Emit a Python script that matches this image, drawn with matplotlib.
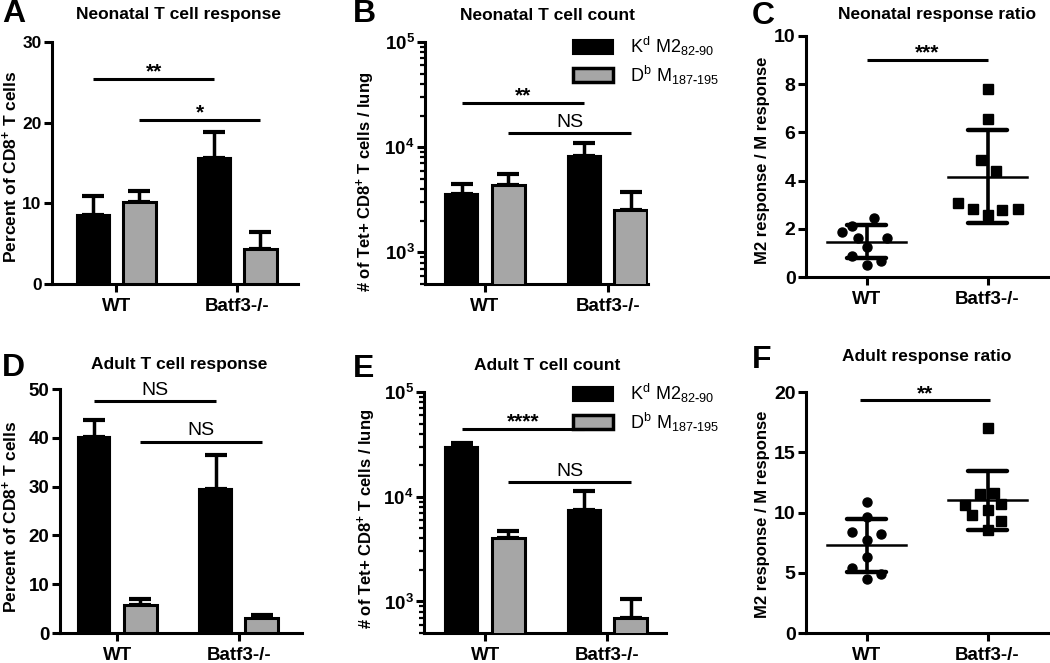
import numpy as np
import matplotlib
matplotlib.use("Agg")
import matplotlib.pyplot as plt
from matplotlib.patches import Patch
from matplotlib.ticker import LogLocator, FuncFormatter, NullFormatter

plt.rcParams["font.family"] = ["Liberation Sans", "DejaVu Sans"]
plt.rcParams["font.weight"] = "bold"
plt.rcParams["mathtext.fontset"] = "custom"
plt.rcParams["mathtext.rm"] = "Liberation Sans"
plt.rcParams["mathtext.bf"] = "Liberation Sans:bold"
plt.rcParams["mathtext.it"] = "Liberation Sans:italic"

# data
groups = ["WT", "Batf3-/-"]
series = [r"$\mathregular{K^d\ M2_{82\text{-}90}}$", r"$\mathregular{D^b\ M_{187\text{-}195}}$"]

# A: neonatal response (% of CD8+)
a_kd = [8.6, 15.6]
a_kd_sem = [2.3, 3.3]
a_db = [10.2, 4.4]
a_db_sem = [1.3, 2.1]

# B: neonatal count
b_kd = [3550, 8200]
b_kd_sem = [900, 2800]
b_db = [4400, 2500]
b_db_sem = [1100, 1250]

# C: neonatal ratio
c_wt = [1.85, 2.12, 2.46, 1.63, 1.63, 1.26, 0.88, 0.68, 0.50]
c_wt_x = [-0.20, -0.12, 0.06, -0.07, 0.17, 0.0, -0.12, 0.12, 0.0]
c_ko = [3.08, 2.81, 4.85, 7.79, 6.56, 2.57, 4.40, 2.78, 2.82]
c_ko_x = [-0.24, -0.12, -0.05, 0.0, 0.0, 0.0, 0.07, 0.12, 0.25]
c_mean = [1.47, 4.16]
c_sd = [0.70, 1.92]

# D: adult response
d_kd = [40.1, 29.5]
d_kd_sem = [3.6, 7.0]
d_db = [5.7, 3.0]
d_db_sem = [1.2, 0.7]

# E: adult count
e_kd = [29900, 7500]
e_kd_sem = [2700, 3900]
e_db = [4060, 700]
e_db_sem = [700, 360]

# F: adult ratio
f_wt = [10.85, 9.65, 8.36, 8.19, 7.72, 6.33, 5.37, 4.87, 4.46]
f_wt_x = [0.0, 0.0, -0.12, 0.12, 0.0, 0.0, -0.12, 0.12, 0.0]
f_ko = [17.0, 11.5, 11.65, 10.62, 10.7, 10.2, 9.8, 9.29, 8.57]
f_ko_x = [0.0, -0.06, 0.05, -0.19, 0.11, 0.0, -0.13, 0.11, 0.0]
f_mean = [7.3, 11.0]
f_sd = [2.2, 2.45]

GRAY = "#a6a6a6"
W, H = 1050, 663
OFF = 0.19
BW = 0.27

fig = plt.figure(figsize=(W / 100, H / 100), dpi=100)


def rect(l, r, t, b):
    return [l / W, 1 - b / H, (r - l) / W, (b - t) / H]


def ftext(x, y, s, **kw):
    fig.text(x / W, 1 - y / H, s, ha="center", va="center", **kw)


def style(ax, xlim, fs):
    for s in ["top", "right"]:
        ax.spines[s].set_visible(False)
    for s in ["left", "bottom"]:
        ax.spines[s].set_linewidth(2.2)
    ax.set_xlim(xlim)
    ax.set_xticks([0, 1])
    ax.set_xticklabels(groups, fontsize=13.5)
    ax.tick_params(axis="x", length=6, width=2.2, pad=4)
    ax.tick_params(axis="y", which="major", length=6, width=2.2, pad=1.5, labelsize=fs)


def bars(ax, kd, kd_sem, db, db_sem, base=0):
    x = np.arange(2)
    for xs, v, e, c, lw in [(x - OFF, kd, kd_sem, "black", 1.5), (x + OFF, db, db_sem, GRAY, 2.2)]:
        v = np.array(v)
        ax.bar(xs, v - base, BW, bottom=base, color=c, edgecolor="black", linewidth=lw, zorder=3)
        ax.errorbar(xs, v, yerr=[np.zeros(2), e], fmt="none", ecolor="black",
                    elinewidth=2.5, capsize=8, capthick=3, zorder=2)


def logaxis(ax):
    ax.set_yscale("log")
    ax.set_ylim(500, 1e5)
    ax.set_yticks([1e3, 1e4, 1e5])
    ax.yaxis.set_major_formatter(FuncFormatter(lambda v, p: r"$\mathbf{10^{%d}}$" % round(np.log10(v))))
    ax.yaxis.set_minor_locator(LogLocator(base=10, subs=np.arange(2, 10)))
    ax.yaxis.set_minor_formatter(NullFormatter())
    ax.tick_params(axis="y", which="minor", length=3.5, width=1.6)


def dots(ax, wt_x, wt, ko_x, ko, means, sds):
    ax.plot(wt_x, wt, "o", ms=6.5, color="black", zorder=3)
    ax.plot(1 + np.array(ko_x), ko, "s", ms=6.5, color="black", zorder=3)
    for i in range(2):
        m, s = means[i], sds[i]
        ax.plot([i - 0.33, i + 0.33], [m, m], color="black", lw=1.8, zorder=4)
        ax.plot([i, i], [m - s, m + s], color="black", lw=2.6, zorder=4)
        for yy in (m - s, m + s):
            ax.plot([i - 0.16, i + 0.16], [yy, yy], color="black", lw=3.2,
                    solid_capstyle="round", zorder=4)


def sig(ax, x0, x1, y, txt, stars=True):
    ax.plot([x0, x1], [y, y], color="black", lw=2.2, solid_capstyle="butt", clip_on=False)
    if stars:
        ax.annotate(txt, xy=((x0 + x1) / 2, y), xytext=(0, 1.0), textcoords="offset points",
                    ha="center", va="baseline", fontsize=15, fontweight="bold")
    else:
        ax.annotate(txt, xy=((x0 + x1) / 2, y), xytext=(0, 4.5), textcoords="offset points",
                    ha="center", va="baseline", fontsize=14, fontweight="normal")


def legend(ax, top):
    handles = [Patch(facecolor="black", edgecolor="black", linewidth=1.5),
               Patch(facecolor=GRAY, edgecolor="black", linewidth=2.5)]
    ax.legend(handles, series, loc="upper left", bbox_to_anchor=(573 / W, 1 - top / H),
              bbox_transform=fig.transFigure, frameon=False, prop={"size": 13, "weight": "normal"},
              handlelength=2.2, handleheight=0.8, handletextpad=0.95, labelspacing=0.3,
              borderpad=0, borderaxespad=0)


# A
ax = fig.add_axes(rect(52, 298, 42, 284))
bars(ax, a_kd, a_kd_sem, a_db, a_db_sem)
ax.set_ylim(0, 30)
ax.set_yticks([0, 10, 20, 30])
style(ax, (-0.53, 1.5), 12.5)
sig(ax, -OFF, 1 - OFF, 25.4, "**")
sig(ax, OFF, 1 + OFF, 20.3, "*")

# B
ax = fig.add_axes(rect(425, 648, 42, 284))
logaxis(ax)
bars(ax, b_kd, b_kd_sem, b_db, b_db_sem, base=1)
style(ax, (-0.49, 1.33), 13.5)
sig(ax, -OFF, 1 - OFF, 26500, "**")
sig(ax, OFF, 1 + OFF, 13500, "NS", stars=False)
legend(ax, 35)

# C
ax = fig.add_axes(rect(806, 1048, 36, 277))
dots(ax, c_wt_x, c_wt, c_ko_x, c_ko, c_mean, c_sd)
ax.set_ylim(0, 10)
ax.set_yticks([0, 2, 4, 6, 8, 10])
style(ax, (-0.5, 1.5), 14)
sig(ax, 0, 1, 9.0, "***")

# D
ax = fig.add_axes(rect(60, 302, 389, 633))
bars(ax, d_kd, d_kd_sem, d_db, d_db_sem)
ax.set_ylim(0, 50)
ax.set_yticks([0, 10, 20, 30, 40, 50])
style(ax, (-0.47, 1.52), 13.5)
sig(ax, -OFF, 1 - OFF, 47.5, "NS", stars=False)
sig(ax, OFF, 1 + OFF, 39.2, "NS", stars=False)

# E
ax = fig.add_axes(rect(424, 666, 392, 633))
logaxis(ax)
bars(ax, e_kd, e_kd_sem, e_db, e_db_sem, base=1)
style(ax, (-0.5, 1.48), 13.5)
sig(ax, -OFF, 1 - OFF, 44500, "****")
sig(ax, OFF, 1 + OFF, 13800, "NS", stars=False)
legend(ax, 382)

# F
ax = fig.add_axes(rect(806, 1048, 392, 633))
dots(ax, f_wt_x, f_wt, f_ko_x, f_ko, f_mean, f_sd)
ax.set_ylim(0, 20)
ax.set_yticks([0, 5, 10, 15, 20])
style(ax, (-0.5, 1.5), 14)
sig(ax, -0.05, 1.02, 19.3, "**")

# titles, panel letters, axis labels
ftext(179, 15, "Neonatal T cell response", fontsize=12.5)
ftext(547, 15, "Neonatal T cell count", fontsize=12.5)
ftext(937, 14, "Neonatal response ratio", fontsize=12.5)
ftext(179, 365, "Adult T cell response", fontsize=12.5)
ftext(547, 366, "Adult T cell count", fontsize=12.5)
ftext(927, 356, "Adult response ratio", fontsize=12.5)

for letter, x, y in [("A", 14, 14), ("B", 364, 14), ("C", 763, 16),
                     ("D", 13, 368), ("E", 364, 369), ("F", 762, 360)]:
    ftext(x, y, letter, fontsize=23)

pct = r"Percent of CD8$^{\mathbf{+}}$ T cells"
cnt = r"# of Tet+ CD8$^{\mathbf{+}}$ T cells / lung"
rat = "M2 response / M response"
ftext(10, 167, pct, fontsize=12.5, rotation=90)
ftext(366, 182, cnt, fontsize=12, rotation=90)
ftext(763, 160, rat, fontsize=12, rotation=90)
ftext(10, 517, pct, fontsize=12.5, rotation=90)
ftext(367, 519, cnt, fontsize=12, rotation=90)
ftext(762, 514, rat, fontsize=12, rotation=90)

fig.savefig("out.png", dpi=100)
